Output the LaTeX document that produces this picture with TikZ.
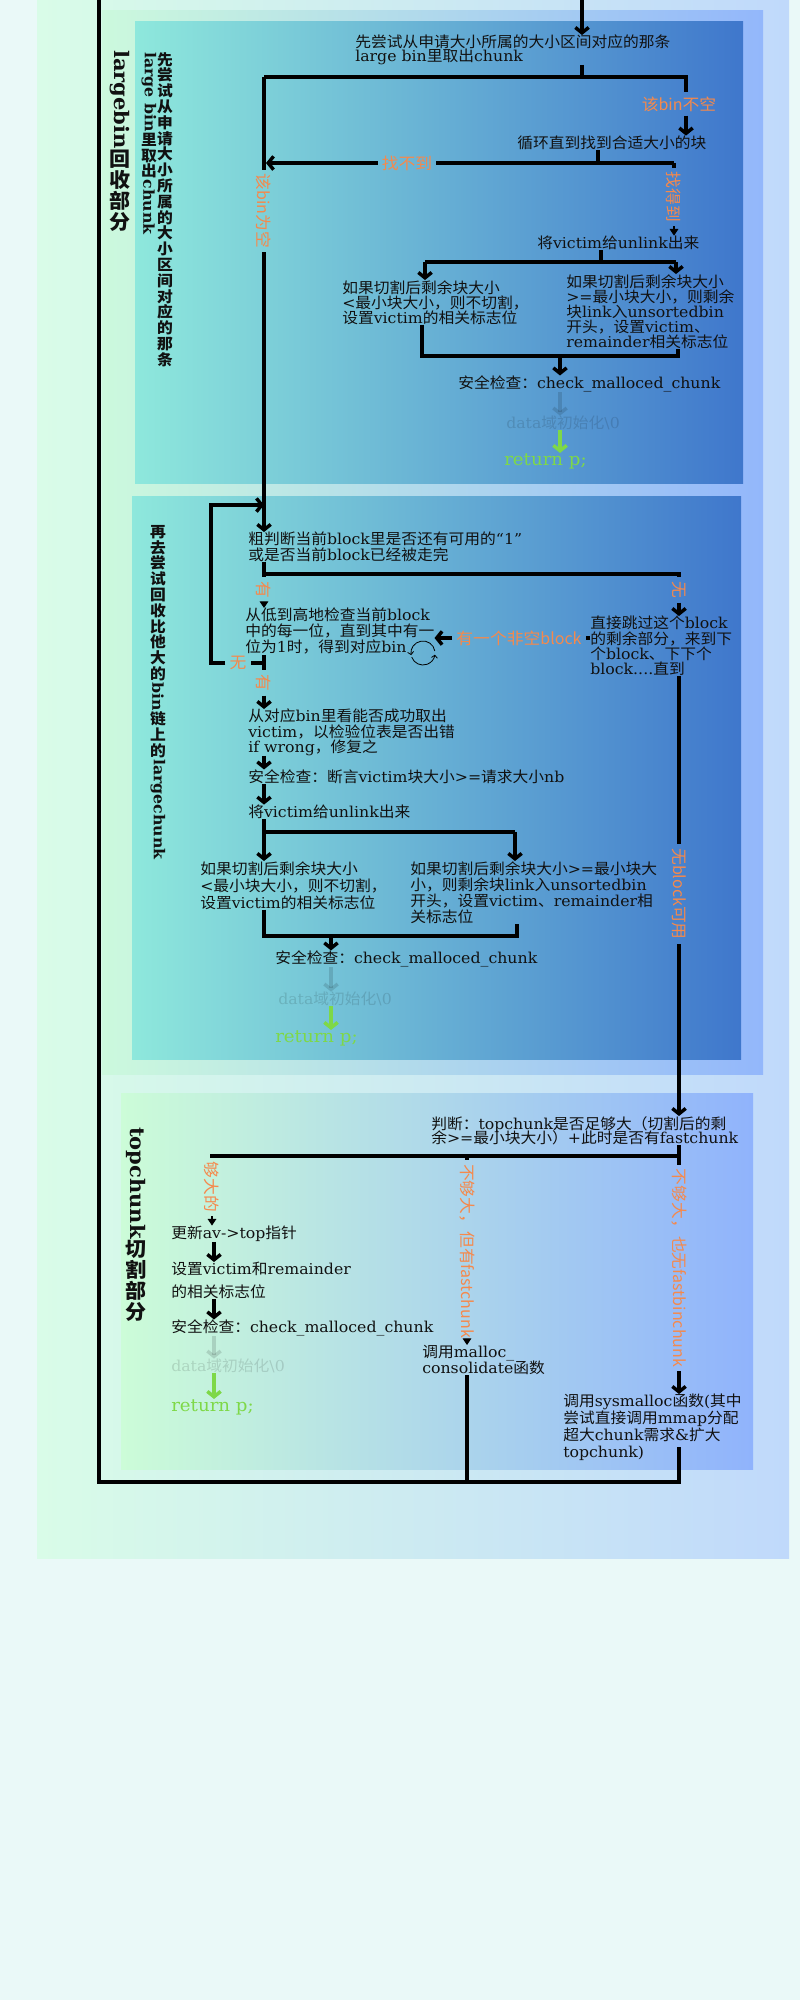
\documentclass[tikz,border=0pt]{standalone}
\usepackage{fontspec}
\usepackage{graphicx}
\usetikzlibrary{arrows.meta,calc}
\setmainfont[FakeStretch=1.05]{DejaVu Serif}
\newfontfamily\cjkfont[FakeStretch=1.05]{Noto Sans CJK SC}
\newfontfamily\lblfont{Noto Sans CJK SC}
% --- automatic switch to the CJK font for CJK characters ---
\newcount\cjkcnt
\cjkcnt="2000
\loop
 \XeTeXcharclass\cjkcnt=0
 \advance\cjkcnt by 1
\ifnum\cjkcnt<"10000
\repeat
\chardef\CJKcls=20
\def\setcjkrange#1#2{\cjkcnt=#1\relax\loop\XeTeXcharclass\cjkcnt=\CJKcls\advance\cjkcnt by 1 \ifnum\cjkcnt<#2\relax\repeat}
\setcjkrange{"3000}{"3040}
\setcjkrange{"4E00}{"A000}
\setcjkrange{"FF00}{"FFF0}
\XeTeXinterchartoks 0 \CJKcls = {\begingroup\cjkfont}
\XeTeXinterchartoks 4095 \CJKcls = {\begingroup\cjkfont}
\XeTeXinterchartoks \CJKcls 0 = {\endgroup}
\XeTeXinterchartoks \CJKcls 4095 = {\endgroup}
\XeTeXinterchartokenstate=1
\makeatletter
\newcommand\vstr[1]{\@tfor\vch:=#1\do{\vch\\}}
\makeatother
\definecolor{pagebg}{HTML}{EAF9F8}
\definecolor{outL}{HTML}{D9FCE8}
\definecolor{outR}{HTML}{C0D9FB}
\definecolor{lbL}{HTML}{CCF9DD}
\definecolor{lbR}{HTML}{93B7FB}
\definecolor{inL}{HTML}{8EE8DC}
\definecolor{inR}{HTML}{3F77CC}
\definecolor{tcL}{HTML}{CCFCD8}
\definecolor{tcR}{HTML}{90B3FC}
\definecolor{lblorange}{HTML}{F5894C}
\definecolor{retgreen}{HTML}{7ED848}
\definecolor{ink}{HTML}{111111}
\tikzset{
 txt/.style={inner sep=0pt, align=left, text=ink, font={\fontsize{11.25}{#1}\selectfont\lineskiplimit=-50pt\relax}},
 txt/.default=11.4,
 fadetxt/.style={inner sep=0pt, text=black, text opacity=0.13, font={\fontsize{11.25}{11.4}\selectfont}},
 rettxt/.style={inner sep=0pt, text=retgreen, font={\fontsize{13}{13}\selectfont}},
 lbl/.style={inner sep=3pt, text=lblorange, font={\lblfont\fontsize{12}{12}\selectfont}},
 vlbl/.style={lbl, rotate=-90},
 vtitle/.style={inner sep=0pt, align=center, text=ink, font={\fontsize{11.25}{11.85}\selectfont\bfseries\lineskip=1pt\lineskiplimit=0pt\relax}},
 vbig/.style={inner sep=0pt, align=center, text=ink, font={\fontsize{15}{15.75}\selectfont\bfseries\lineskip=1pt\lineskiplimit=0pt\relax}},
 flow/.style={line width=2.6pt},
 arr/.style={flow, -{Straight Barb[length=4pt,width=10pt]}},
 tri/.style={line width=0.8pt, -{Triangle[length=5pt,width=6.5pt]}},
 fadearr/.style={arr, draw opacity=0.13},
 grnarr/.style={arr, draw=retgreen},
}
\begin{document}
\begin{tikzpicture}[x=0.75pt,y=-0.75pt]
\useasboundingbox (0,0) rectangle (800,2000);
\fill[pagebg] (0,0) rectangle (800,2000);
\shade[left color=outL, right color=outR] (37,0) rectangle (789,1558);
\shade[left color=lbL, right color=lbR] (102,10) rectangle (763,1074);
\shade[left color=inL, right color=inR] (135,21) rectangle (743,483);
\shade[left color=inL, right color=inR] (132,496) rectangle (741,1059);
\shade[left color=tcL, right color=tcR] (121,1093) rectangle (753,1469);

% ---------- vertical titles ----------
\node[vbig, anchor=north] (H1) at (120,50) {\rotatebox[origin=c]{-90}{largebin}\\\vstr{回收部分}};
\node[vtitle, anchor=north] (H2a) at (165,52) {\vstr{先尝试从申请大小所属的大小区间对应的那条}};
\node[vtitle, anchor=north] (H2b) at (149,52) {\rotatebox[origin=c]{-90}{large bin}\\\vstr{里取出}\rotatebox[origin=c]{-90}{chunk}};
\node[vtitle, anchor=north] (H3) at (158,525) {\vstr{再去尝试回收比他大的}\rotatebox[origin=c]{-90}{bin}\\\vstr{链上的}\rotatebox[origin=c]{-90}{largechunk}};
\node[vbig, anchor=north] (H4) at (136,1127) {\rotatebox[origin=c]{-90}{topchunk}\\\vstr{切割部分}};

% ---------- box 1 ----------
\node[txt=10, anchor=north west] (T1) at (355,35) {先尝试从申请大小所属的大小区间对应的那条\\large bin里取出chunk};
\node[txt, anchor=base west] (T2) at (517,148.5) {循环直到找到合适大小的块};
\node[txt, anchor=base west] (T3) at (537,248.5) {将victim给unlink出来};
\node[txt, anchor=north west] (T4) at (342,280) {如果切割后剩余块大小\\<最小块大小，则不切割，\\设置victim的相关标志位};
\node[txt, anchor=north west] (T5) at (566,274) {如果切割后剩余块大小\\>=最小块大小，则剩余\\块link入unsortedbin\\开头，设置victim、\\remainder相关标志位};
\node[txt, anchor=base west] (T6) at (458,388.5) {安全检查：check\_malloced\_chunk};
\node[fadetxt, anchor=base west] (T7) at (506,428.5) {data域初始化\textbackslash 0};
\node[rettxt, anchor=base west] (T8) at (504,465) {return p;};

\node[lbl] (L1) at (679,104) {该bin不空};
\node[lbl] (L2) at (407,163) {找不到};
\node[vlbl] (L3) at (674,197) {找得到};
\node[vlbl] (L4) at (264,211) {该bin为空};

% ---------- box 2 ----------
\node[txt, anchor=north west] (U1) at (248,532) {粗判断当前block里是否还有可用的“1”\\或是否当前block已经被走完};
\node[txt=12, anchor=north west] (U2) at (245,608) {从低到高地检查当前block\\中的每一位，直到其中有一\\位为1时，得到对应bin};
\node[txt, anchor=north west] (U3) at (590,616) {直接跳过这个block\\的剩余部分，来到下\\个block、下下个\\block....直到};
\node[txt, anchor=north west] (U4) at (248,709) {从对应bin里看能否成功取出\\victim，以检验位表是否出错\\if wrong，修复之};
\node[txt, anchor=base west] (U5) at (248,782.5) {安全检查：断言victim块大小>=请求大小nb};
\node[txt, anchor=base west] (U6) at (248,817.5) {将victim给unlink出来};
\node[txt=12.75, anchor=north west] (U7) at (200,861) {如果切割后剩余块大小\\<最小块大小，则不切割，\\设置victim的相关标志位};
\node[txt=12.2, anchor=north west] (U8) at (410,861) {如果切割后剩余块大小>=最小块大\\小，则剩余块link入unsortedbin\\开头，设置victim、remainder相\\关标志位};
\node[txt, anchor=base west] (U9) at (275,963.5) {安全检查：check\_malloced\_chunk};
\node[fadetxt, anchor=base west] (U10) at (278,1004.5) {data域初始化\textbackslash 0};
\node[rettxt, anchor=base west] (U11) at (275,1042) {return p;};

\node[vlbl] (L8) at (264,590) {有};
\node[vlbl] (L9) at (679,590) {无};
\node[lbl] (L6) at (238,663) {无};
\node[vlbl] (L7) at (264,683) {有};
\node[lbl] (L10) at (519,638) {有一个非空block};
\node[vlbl] (L11) at (679,894) {无block可用};

% ---------- topchunk box ----------
\node[txt=10.5, anchor=north west] (V1) at (431,1116) {判断：topchunk是否足够大（切割后的剩\\余>=最小块大小）+此时是否有fastchunk};
\node[txt, anchor=base west] (V2) at (171,1238.5) {更新av->top指针};
\node[txt=17.25, anchor=north west] (V3) at (171,1262) {设置victim和remainder\\的相关标志位};
\node[txt, anchor=base west] (V4) at (171,1332.5) {安全检查：check\_malloced\_chunk};
\node[fadetxt, anchor=base west] (V5) at (171,1371.5) {data域初始化\textbackslash 0};
\node[rettxt, anchor=base west] (V6) at (171,1411) {return p;};
\node[txt=12, anchor=north west] (V7) at (422,1345) {调用malloc\_\\consolidate函数};
\node[txt=12.75, anchor=north west] (V8) at (563,1394) {调用sysmalloc函数(其中\\尝试直接调用mmap分配\\超大chunk需求\&扩大\\topchunk)};

\node[vlbl] (L12) at (212,1187) {够大的};
\node[vlbl] (L13) at (467,1251) {不够大，但有fastchunk};
\node[vlbl] (L14) at (679,1268) {不够大，也无fastbinchunk};

% ---------- coordinates ----------
\coordinate (top0) at (582,0);
\coordinate (j1) at (582,77);
\coordinate (j1l) at (264,77);
\coordinate (j1r) at (686,77);
\coordinate (j2) at (598,163);
\coordinate (j2l) at (266,163);
\coordinate (j2r) at (674,163);
\coordinate (j3) at (601,262);
\coordinate (j3l) at (425,262);
\coordinate (j3r) at (676,262);
\coordinate (j4) at (560,356);
\coordinate (j4l) at (422,356);
\coordinate (j4r) at (678,356);
\coordinate (j5) at (264,574);
\coordinate (j5r) at (679,574);
\coordinate (j6) at (264,663);
\coordinate (lp1) at (211,663);
\coordinate (lp2) at (211,505);
\coordinate (lpin) at (264,505);
\coordinate (j7) at (264,832);
\coordinate (j7r) at (515,832);
\coordinate (j8) at (331,936);
\coordinate (j8l) at (264,936);
\coordinate (j8r) at (517,936);
\coordinate (j9) at (679,1156);
\coordinate (j9l) at (212,1156);
\coordinate (j9m) at (467,1156);
\coordinate (c214) at (214,1250);
\coordinate (v8o) at (679,1447);
\coordinate (br) at (679,1482);
\coordinate (bm) at (467,1482);
\coordinate (bl) at (99,1482);
\coordinate (tl) at (99,0);

% ---------- connectors box 1 ----------
\draw[arr] (top0) -- (T1.north -| top0);
\draw[flow] (T1.south -| j1) -- (j1);
\draw[flow] (j1l) -- (j1r) -- (L1.north -| j1r);
\draw[arr] (L1.south -| j1r) -- (T2.north -| j1r);
\draw[flow] (T2.south -| j2) -- (j2);
\draw[flow] (j2r) -- (L2.east);
\draw[arr] (L2.west) -- (j2l);
\draw[flow] (j2r) -- (L3.west);
\draw[tri] (L3.east) -- (T3.north -| j2r);
\draw[flow] (j1l) -- (L4.west);
\draw[arr] (L4.east) -- (U1.north -| j1l);
\draw[flow] (T3.south -| j3) -- (j3);
\draw[flow] (j3l) -- (j3r);
\draw[arr] (j3l) -- (T4.north -| j3l);
\draw[arr] (j3r) -- (T5.north -| j3r);
\draw[flow] (T4.south -| j4l) -- (j4l) -- (j4r) -- (T5.south -| j4r);
\draw[arr] (j4) -- (T6.north -| j4);
\draw[fadearr] (T6.south -| j4) -- (T7.north -| j4);
\draw[grnarr] (T7.south -| j4) -- (T8.north -| j4);

% ---------- connectors box 2 ----------
\draw[flow] (U1.south -| j5) -- (j5) -- (j5r) -- (L9.west);
\draw[flow] (j5) -- (L8.west);
\draw[tri] (L8.east) -- (U2.north -| j5);
\draw[arr] (L9.east) -- (U3.north -| j5r);
\draw[flow] (U3.west |- L10.east) -- (L10.east);
\draw[arr] (L10.west) -- (U2.east |- L10.west);
\draw[flow] (U2.south -| j6) -- (L7.west);
\draw[flow] (j6) -- (L6.east);
\draw[arr] (L6.west) -- (lp1) -- (lp2) -- (lpin);
\draw[arr] (L7.east) -- (U4.north -| j6);
\draw[line width=0.6pt, -{Straight Barb[length=2pt,width=4.5pt]}] (423,653) ++(-10:12) arc[start angle=-10, end angle=-190, radius=12];
\draw[line width=0.6pt, -{Straight Barb[length=2pt,width=4.5pt]}] (423,653) ++(-200:12) arc[start angle=-200, end angle=-352, radius=12];
\draw[flow] (U3.south -| j5r) -- (L11.west);
\draw[arr] (L11.east) -- (V1.north -| j5r);
\draw[arr] (U4.south -| j6) -- (U5.north -| j6);
\draw[arr] (U5.south -| j6) -- (U6.north -| j6);
\draw[flow] (U6.south -| j7) -- (j7) -- (j7r);
\draw[arr] (j7) -- (U7.north -| j7);
\draw[arr] (j7r) -- (U8.north -| j7r);
\draw[flow] (U7.south -| j8l) -- (j8l) -- (j8r) -- (U8.south -| j8r);
\draw[arr] (j8) -- (U9.north -| j8);
\draw[fadearr] (U9.south -| j8) -- (U10.north -| j8);
\draw[grnarr] (U10.south -| j8) -- (U11.north -| j8);

% ---------- connectors topchunk ----------
\draw[flow] (V1.south -| j9) -- (j9) -- (L14.west);
\draw[flow] (j9) -- (j9l) -- (L12.west);
\draw[flow] (j9m) -- (L13.west);
\draw[tri] (L12.east) -- (V2.north -| j9l);
\draw[tri] (L13.east) -- (V7.north -| j9m);
\draw[arr] (L14.east) -- (V8.north -| j9);
\draw[arr] (V2.south -| c214) -- (V3.north -| c214);
\draw[arr] (V3.south -| c214) -- (V4.north -| c214);
\draw[fadearr] (V4.south -| c214) -- (V5.north -| c214);
\draw[grnarr] (V5.south -| c214) -- (V6.north -| c214);
\draw[flow] (V7.south -| bm) -- (bm);
\draw[flow] (v8o) -- (br) -- (bl) -- (tl);
\end{tikzpicture}
\end{document}
